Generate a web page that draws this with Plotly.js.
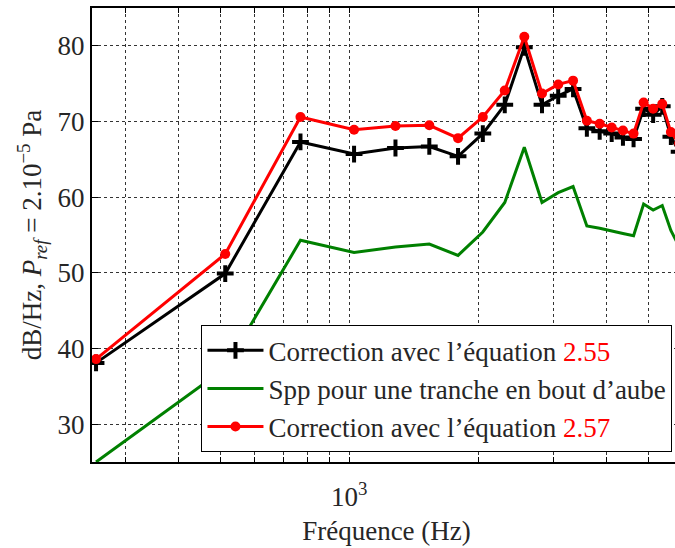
<!DOCTYPE html>
<html>
<head>
<meta charset="utf-8">
<script src="https://cdn.plot.ly/plotly-3.0.1.min.js"></script>
<style>
html, body { margin: 0; padding: 0; overflow: hidden; background: #fff; width: 675px; height: 548px; }
#chart { width: 720px; height: 548px; }
#chart svg text, #chart svg tspan { font-family: 'Liberation Serif', 'Times New Roman', serif !important; }
</style>
</head>
<body>
<div id="chart"></div>
<script>
// Frequencies (Hz) – harmonics
const freq = [256, 513, 769, 1026, 1282, 1538, 1795, 2051, 2308, 2564, 2820, 3077, 3333, 3590, 3846, 4103, 4359, 4615, 4872, 5128, 5385, 5641, 5897];
// Correction avec l'équation 2.55 (black, plus markers)
const corr255 = [38.1, 49.9, 67.3, 65.7, 66.5, 66.7, 65.4, 68.4, 72.2, 79.8, 72.2, 73.4, 74.3, 69.1, 68.7, 68.4, 67.9, 67.7, 71.7, 70.9, 72.0, 68.0, 66.0];
// Spp pour une tranche en bout d'aube (green)
const sppTip = [25.0, 37.4, 54.3, 52.7, 53.4, 53.8, 52.3, 55.4, 59.3, 66.6, 59.3, 60.6, 61.4, 56.2, 55.9, 55.5, 55.2, 54.9, 59.1, 58.3, 58.9, 55.6, 53.5];
// Correction avec l'équation 2.57 (red, circle markers)
const corr257 = [38.6, 52.5, 70.6, 68.9, 69.4, 69.5, 67.8, 70.6, 74.1, 81.2, 73.7, 74.9, 75.4, 70.1, 69.7, 69.2, 68.8, 68.4, 72.5, 71.7, 72.3, 68.6, 67.1];

const xTickVals = [300, 400, 500, 600, 700, 800, 900, 1000, 2000, 3000, 4000, 5000, 6000];
const xTickText = ["", "", "", "", "", "", "", "10<sup>3</sup>", "", "", "", "", ""];
const yTickVals = [30, 40, 50, 60, 70, 80];

const FONT = "Liberation Serif";
const TXT = "#262626";
const redRef = (s) => "<span style='color:#ff0000'>" + s + "</span>";

const traces = [
  {
    x: freq, y: corr255, type: "scatter", mode: "lines+markers",
    name: "Correction avec l’équation " + redRef("2.55"),
    line: { color: "#000000", width: 3 },
    marker: { symbol: "cross-thin", size: 12, color: "#000000", line: { color: "#000000", width: 4 } }
  },
  {
    x: freq, y: sppTip, type: "scatter", mode: "lines",
    name: "Spp pour une tranche en bout d’aube",
    line: { color: "#008000", width: 3 }
  },
  {
    x: freq, y: corr257, type: "scatter", mode: "lines+markers",
    name: "Correction avec l’équation " + redRef("2.57"),
    line: { color: "#ff0000", width: 3 },
    marker: { symbol: "circle", size: 10, color: "#ff0000" }
  }
];

const layout = {
  width: 720, height: 548,
  margin: { l: 92, r: 39, t: 8, b: 86 },
  paper_bgcolor: "#ffffff", plot_bgcolor: "#ffffff",
  font: { family: FONT, size: 26, color: TXT },
  showlegend: true,
  legend: {
    x: 0.985, xanchor: "right", y: 0.022, yanchor: "bottom",
    bgcolor: "#ffffff", bordercolor: "#000000", borderwidth: 1.3,
    font: { family: FONT, size: 27, color: TXT },
    itemwidth: 56, tracegroupgap: 0
  },
  xaxis: {
    type: "log", automargin: false,
    range: [Math.log10(250.5), Math.log10(5957)],
    tickmode: "array", tickvals: xTickVals, ticktext: xTickText,
    ticks: "inside", ticklen: 5, tickcolor: "#000000", tickwidth: 1,
    ticklabelstandoff: 10,
    showline: true, linecolor: "#000000", linewidth: 2, mirror: "ticks",
    showgrid: true, gridcolor: "#333333", griddash: "dot", gridwidth: 1,
    zeroline: false,
    tickfont: { family: FONT, size: 27, color: TXT },
    title: { text: "Fréquence (Hz)", font: { family: FONT, size: 27, color: TXT }, standoff: 10 }
  },
  yaxis: {
    range: [25, 85], automargin: false,
    tickmode: "array", tickvals: yTickVals,
    ticks: "inside", ticklen: 6, tickcolor: "#000000", tickwidth: 1,
    showline: true, linecolor: "#000000", linewidth: 2, mirror: "ticks",
    showgrid: true, gridcolor: "#333333", griddash: "dot", gridwidth: 1,
    zeroline: false,
    tickfont: { family: FONT, size: 27, color: TXT },
    title: { text: "dB/Hz, <i>P<sub>ref</sub></i> = 2.10<sup>−5</sup> Pa", font: { family: FONT, size: 27, color: TXT }, standoff: 8 }
  }
};

Plotly.newPlot("chart", traces, layout, { displayModeBar: false });
</script>
</body>
</html>
